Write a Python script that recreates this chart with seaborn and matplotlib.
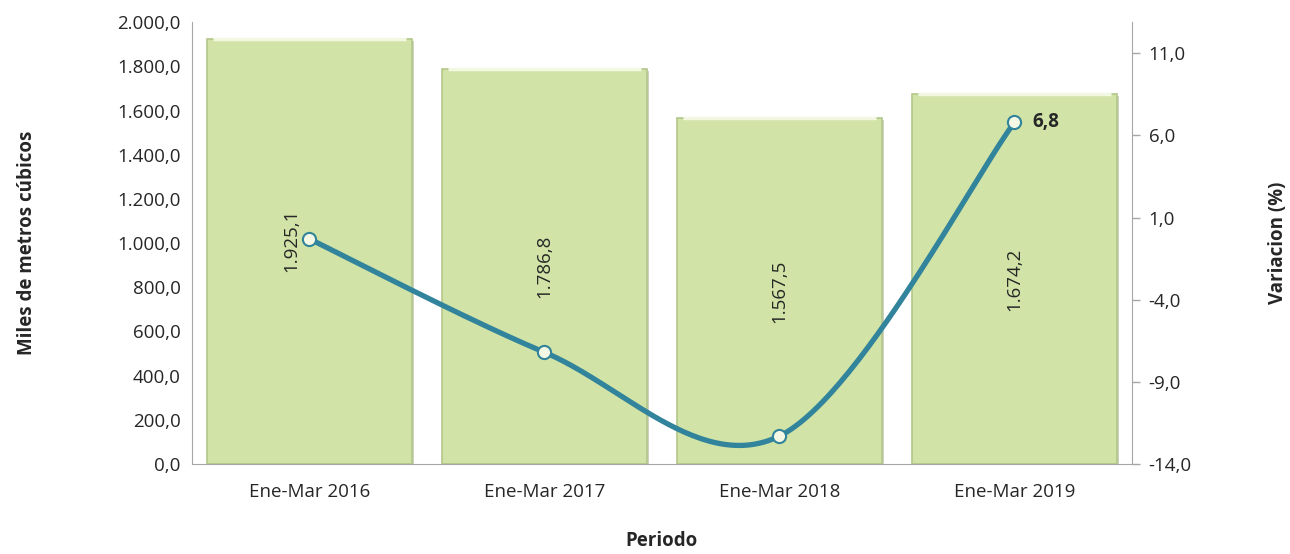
import matplotlib
matplotlib.use("Agg")
import matplotlib.pyplot as plt
import matplotlib.patheffects as pe
import seaborn as sns
import numpy as np
import pandas as pd

periodos = ["Ene-Mar 2016", "Ene-Mar 2017", "Ene-Mar 2018", "Ene-Mar 2019"]
volumen = [1925.1, 1786.8, 1567.5, 1674.2]
variacion = [-0.3, -7.2, -12.3, 6.8]

sns.set_style("white")
plt.rcParams['font.family'] = ['Open Sans', 'DejaVu Sans']
FS = 13.5


def fmt_es(v, pos=None):
    s = f"{v:,.1f}"
    return s.replace(",", "X").replace(".", ",").replace("X", ".")


def catmull_rom(xs, ys, n=60):
    # smooth curve through the points, like Excel "smoothed line"
    xs = np.asarray(xs, float)
    ys = np.asarray(ys, float)
    px = np.concatenate([[xs[0]], xs, [xs[-1]]])
    py = np.concatenate([[ys[0]], ys, [ys[-1]]])
    out_x, out_y = [], []
    t = np.linspace(0, 1, n)
    for i in range(1, len(px) - 2):
        for p, out in ((px, out_x), (py, out_y)):
            p0, p1, p2, p3 = p[i - 1], p[i], p[i + 1], p[i + 2]
            c = 0.5 * ((2 * p1) + (-p0 + p2) * t + (2 * p0 - 5 * p1 + 4 * p2 - p3) * t ** 2
                       + (-p0 + 3 * p1 - 3 * p2 + p3) * t ** 3)
            out.extend(c)
    return np.array(out_x), np.array(out_y)


df = pd.DataFrame({"periodo": periodos, "volumen": volumen, "variacion": variacion})

fig = plt.figure(figsize=(12.9, 5.54), dpi=100)
ax = fig.add_axes([0.1488, 0.1625, 0.7287, 0.7975])

sns.barplot(data=df, x="periodo", y="volumen", ax=ax, color="#D1E3A6",
            saturation=1, width=0.87, edgecolor="#B3C78A", linewidth=1.2)
# soft bevel look: shadow plus a light top edge
for bar in ax.containers[0]:
    bar.set_path_effects([pe.SimplePatchShadow(offset=(1.5, -1.5), shadow_rgbFace="#9AA67E", alpha=0.5),
                          pe.Normal()])
    x, w, h = bar.get_x(), bar.get_width(), bar.get_height()
    ax.plot([x + w * 0.03, x + w * 0.97], [h, h], color="#F3F8E2", lw=2.5,
            solid_capstyle="butt", zorder=bar.get_zorder() + 0.1)

ax.set_xlim(-0.5, 3.5)
ax.set_ylim(0, 2000)
ax.set_yticks(np.arange(0, 2001, 200))
ax.yaxis.set_major_formatter(plt.FuncFormatter(fmt_es))
ax.tick_params(axis="y", length=0, labelsize=FS, pad=8)
ax.tick_params(axis="x", length=0, labelsize=FS, pad=14)
for s in ["top", "right"]:
    ax.spines[s].set_visible(False)
for s in ["left", "bottom"]:
    ax.spines[s].set_color("#A6A6A6")
labels = ax.bar_label(ax.containers[0], labels=[fmt_es(v) for v in volumen],
                      label_type="center", rotation=90, fontsize=FS)
# first label is nudged left so the marker does not sit on it
x0, y0 = labels[0].get_position()
labels[0].set_position((x0 - 13, y0 + 8))
ax.set_xlabel("Periodo", fontsize=FS, fontweight="bold", labelpad=21)
ax.set_ylabel("Miles de metros cúbicos", fontsize=FS, fontweight="bold", labelpad=58)

ax2 = ax.twinx()
ax2.set_ylim(-14, 12.9)
ax2.set_yticks(np.arange(-14, 12, 5))
ax2.yaxis.set_major_formatter(plt.FuncFormatter(fmt_es))
ax2.tick_params(axis="y", length=6, width=1, color="#A6A6A6", labelsize=FS, pad=6)
for s in ["top", "left", "bottom"]:
    ax2.spines[s].set_visible(False)
ax2.spines["right"].set_color("#A6A6A6")

xpos = np.arange(len(periodos))
cx, cy = catmull_rom(xpos, variacion)
ax2.plot(cx, cy, color="#31849B", lw=3.8, solid_capstyle="round", zorder=3)
sns.scatterplot(x=xpos, y=variacion, ax=ax2, s=90, color="#F4F8E4",
                edgecolor="#31849B", linewidth=1.5, zorder=4)
ax2.annotate(fmt_es(variacion[-1]), (xpos[-1], variacion[-1]), xytext=(13, 0),
             textcoords="offset points", fontsize=FS, fontweight="bold", va="center")
ax2.set_ylabel("Variacion (%)", fontsize=FS, fontweight="bold", labelpad=55)

fig.savefig("out.png", dpi=100)
